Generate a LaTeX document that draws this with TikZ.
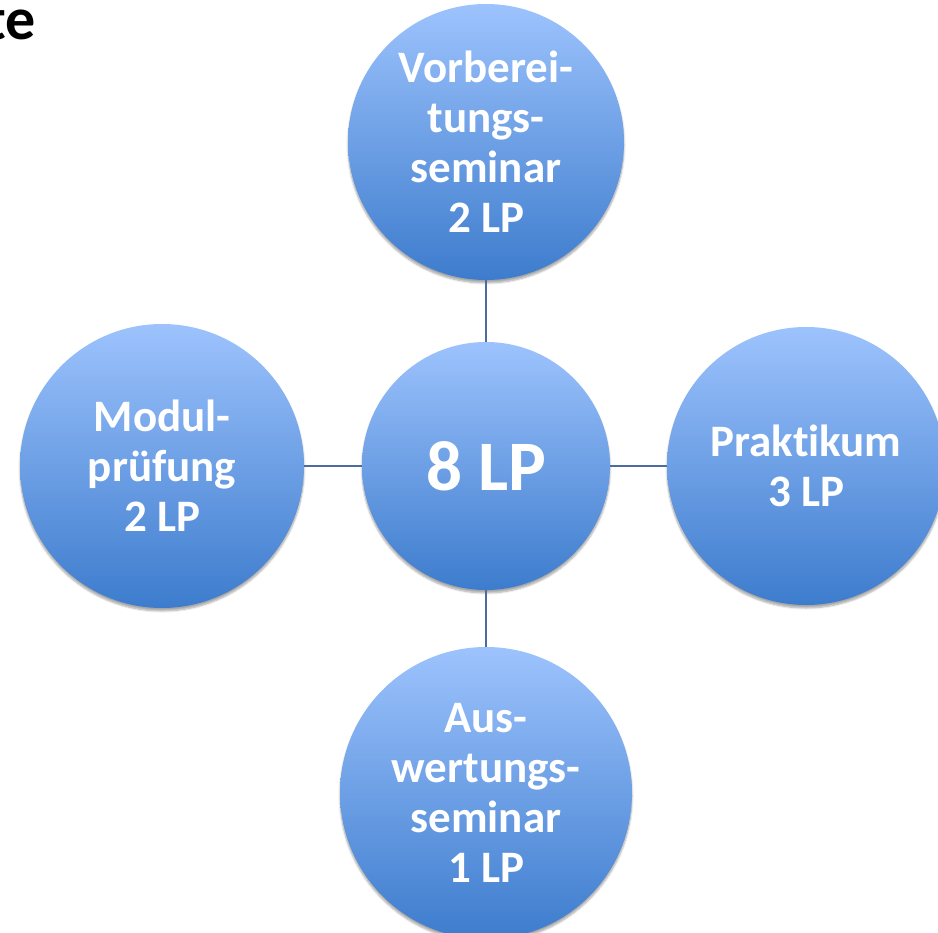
\documentclass[tikz,border=0pt]{standalone}
\usepackage{fontspec}
\setmainfont{Carlito}[Ligatures={NoCommon}]
\usetikzlibrary{shadows.blur}
\definecolor{ctop}{HTML}{9DC3FD}
\definecolor{cbot}{HTML}{3D7CCD}
\definecolor{linkc}{HTML}{4A6C9E}
\begin{document}
\begin{tikzpicture}[x=1pt,y=-1pt,
  bubble/.style={circle, inner sep=0pt, top color=ctop, bottom color=cbot, draw=none,
    text=white, font=\fontsize{45}{50}\selectfont\bfseries, align=center,
    blur shadow={shadow xshift=0pt, shadow yshift=-3pt, shadow blur steps=6, shadow opacity=35}},
  link/.style={draw=linkc, line width=1.6pt}]
\useasboundingbox (0,0) rectangle (938,933);
\clip (0,0) rectangle (938,933);
\node[font=\fontsize{60}{60}\selectfont\bfseries, anchor=base east, inner sep=0pt] (title) at (36,40) {te};
\node[bubble, minimum size=248pt, font=\fontsize{71}{71}\selectfont\bfseries] (c) at (486,466) {8 LP};
\node[bubble, minimum size=276pt] (t) at (486,142) {Vorberei-\\tungs-\\seminar\\2 LP};
\node[bubble, minimum size=284pt] (l) at (162,466) {Modul-\\prüfung\\2 LP};
\node[bubble, minimum size=278pt] (r) at (806,466) {Praktikum\\3 LP};
\node[bubble, minimum size=292pt] (b) at (486,793) {Aus-\\wertungs-\\seminar\\1 LP};
\draw[link] (t.south) -- (c.north);
\draw[link] (l.east) -- (c.west);
\draw[link] (c.east) -- (r.west);
\draw[link] (c.south) -- (b.north);
\end{tikzpicture}
\end{document}
